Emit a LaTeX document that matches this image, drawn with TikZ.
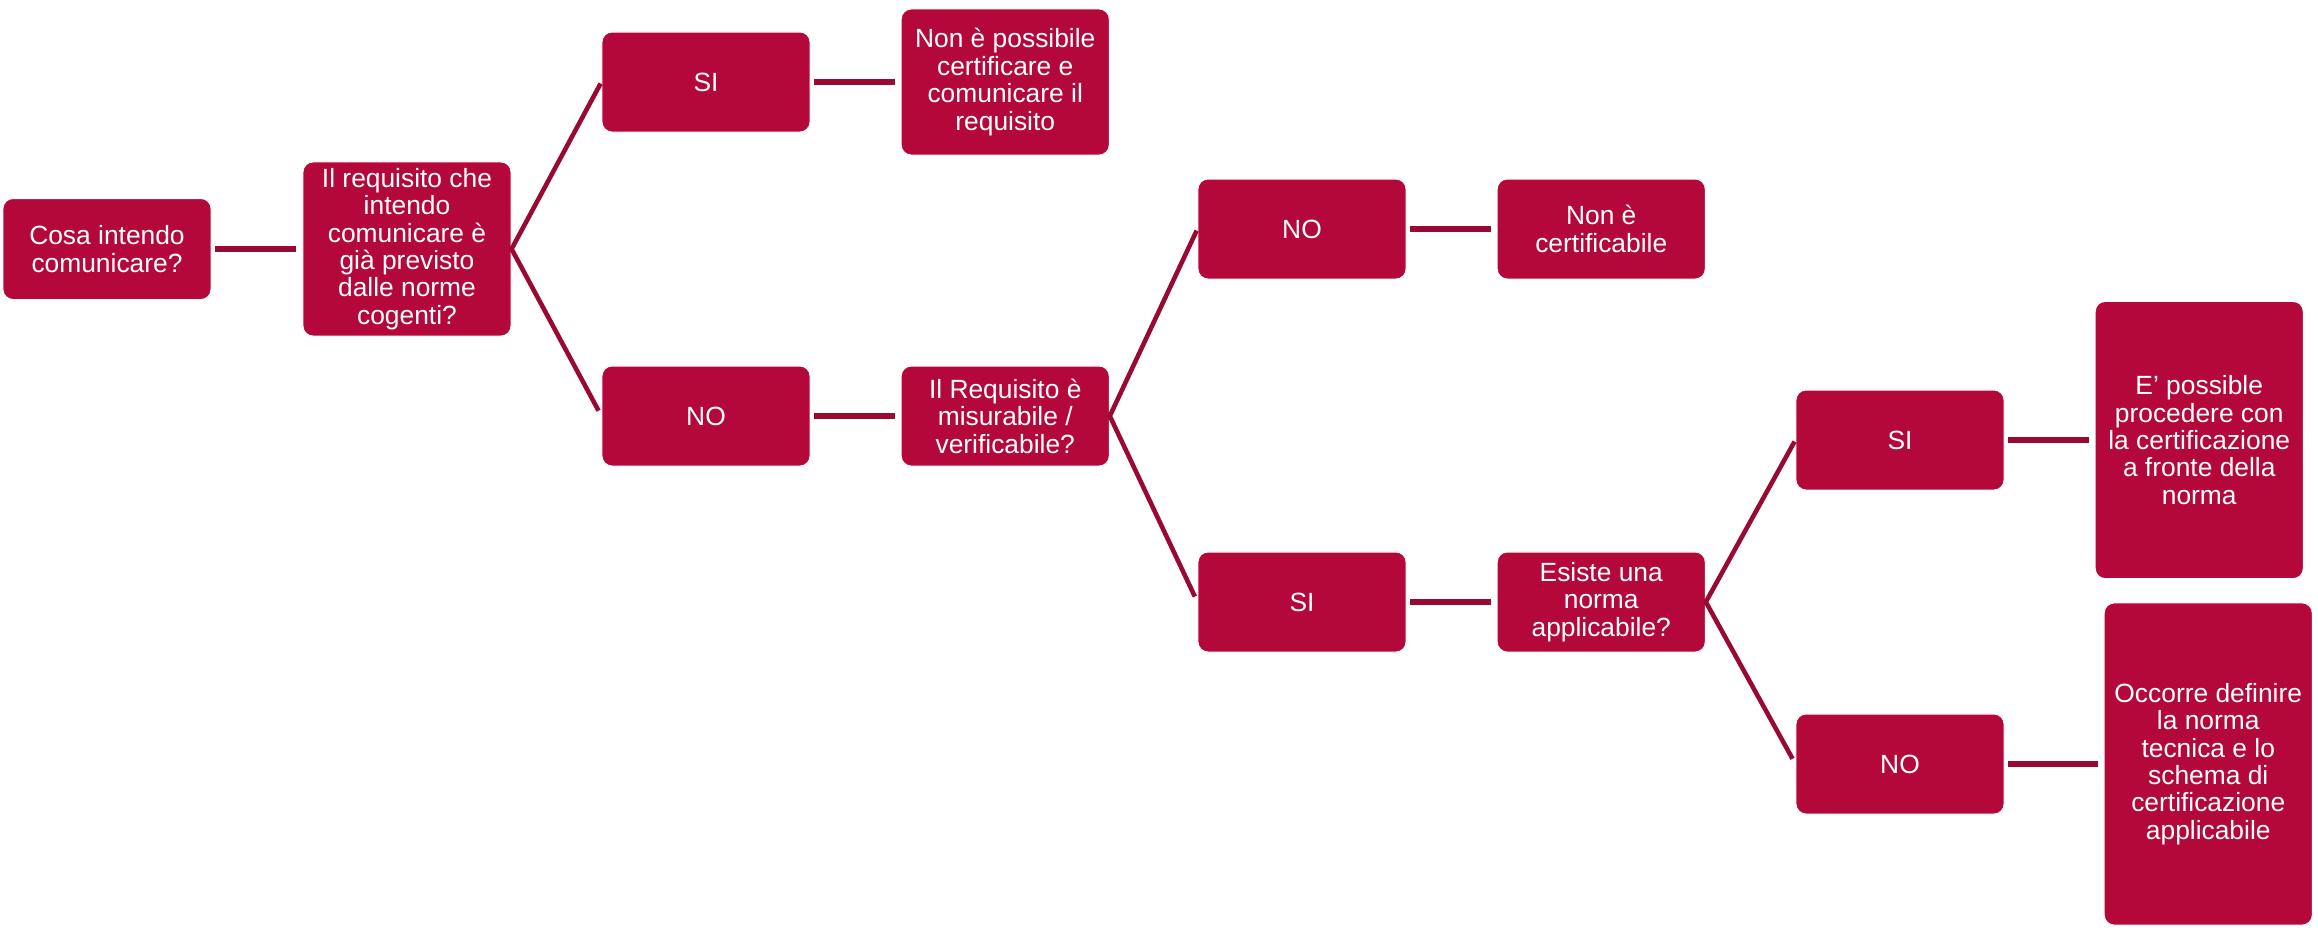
\documentclass[tikz,border=0pt]{standalone}
\usepackage{fontspec}
\setmainfont{Liberation Sans}
\usetikzlibrary{positioning}
\definecolor{boxred}{RGB}{181,8,58}
\definecolor{linered}{RGB}{152,10,50}

\begin{document}
\begin{tikzpicture}[x=0.01cm,y=-0.01cm,every node/.style={draw=white,line width=0.3pt,fill=boxred,text=white,rounded corners=1mm,align=center,minimum width=2.08cm,minimum height=1cm,inner sep=1pt,font=\fontsize{7.5}{7.8}\selectfont},link/.style={line width=1.7pt,draw=linered,shorten <=1pt,shorten >=1.7pt},fork/.style={line width=1.3pt,draw=linered,shorten <=0.5pt,shorten >=1.7pt}]
  \useasboundingbox (0,0) rectangle (2318,930);

  \node (cosa) at (107,249)[minimum height=1.01cm]{Cosa intendo\\comunicare?};
  \node (req) at (407,249)[minimum height=1.74cm]{Il requisito che\\intendo\\comunicare è\\già previsto\\dalle norme\\cogenti?};

  \node (si1) at (706,82){SI};
  \node[right=0.9cm of si1] (nonposs)[minimum height=1.46cm]{Non è possibile\\certificare e\\comunicare il\\requisito};
  \node (no1) at (706,416){NO};
  \node[right=0.9cm of no1] (misura){Il Requisito è\\misurabile /\\verificabile?};

  \node (no2) at (1302,229){NO};
  \node[right=0.9cm of no2] (noncert){Non è\\certificabile};
  \node (si2) at (1302,602){SI};
  \node[right=0.9cm of si2] (esiste){Esiste una\\norma\\applicabile?};

  \node (si3) at (1900,440){SI};
  \node[right=0.9cm of si3] (possible)[minimum height=2.77cm]{E’ possible\\procedere con\\la certificazione\\a fronte della\\norma};
  \node (no3) at (1900,764){NO};
  \node[right=0.99cm of no3] (occorre)[minimum height=3.22cm]{Occorre definire\\la norma\\tecnica e lo\\schema di\\certificazione\\applicabile};

  \draw[link](cosa)--(req);
  \draw[link](si1)--(nonposs);
  \draw[link](no1)--(misura);
  \draw[link](no2)--(noncert);
  \draw[link](si2)--(esiste);
  \draw[link](si3)--(possible);
  \draw[link](no3)--(occorre);

  \draw[fork](si1.west)--(req.east)--(no1.west);
  \draw[fork](no2.west)--(misura.east)--(si2.west);
  \draw[fork](si3.west)--(esiste.east)--(no3.west);
\end{tikzpicture}
\end{document}
